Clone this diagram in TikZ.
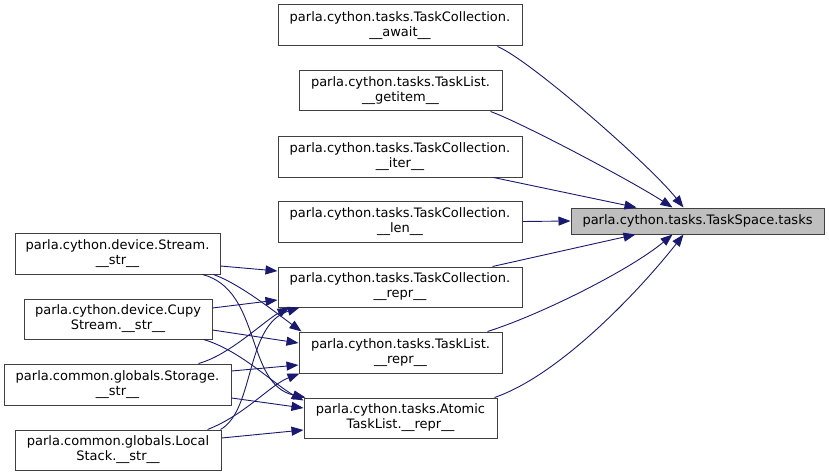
\documentclass[tikz,border=0pt]{standalone}
\usepackage{fontspec}
\setmainfont{DejaVu Sans}
\usetikzlibrary{arrows.meta,calc}
\definecolor{edgec}{HTML}{191970}
\definecolor{bordc}{HTML}{404040}
\definecolor{tgtfill}{HTML}{BFBFBF}
\tikzset{
  fn/.style={draw=bordc, line width=1pt, fill=white, rectangle, inner sep=0pt, align=center,
    font=\fontsize{13}{15}\selectfont},
  tgtbox/.style={fn, fill=tgtfill},
  edge/.style={draw=edgec, line width=0.9pt, -{Triangle[length=12pt,width=9pt]}, color=edgec}
}
\begin{document}
\begin{tikzpicture}[x=1pt,y=-1pt]
\useasboundingbox (0,0) rectangle (829,476);
% target
\node[tgtbox, minimum width=253pt, minimum height=26pt] (tgt) at (697.5,221) {parla.cython.tasks.TaskSpace.tasks};
% middle column
\node[fn, minimum width=244pt, minimum height=41pt] (await) at (400,25.5) {parla.cython.tasks.TaskCollection.\\\_\_await\_\_};
\node[fn, minimum width=203pt, minimum height=40pt] (getitem) at (400.5,91) {parla.cython.tasks.TaskList.\\\_\_getitem\_\_};
\node[fn, minimum width=244pt, minimum height=41pt] (iter) at (400,156.5) {parla.cython.tasks.TaskCollection.\\\_\_iter\_\_};
\node[fn, minimum width=244pt, minimum height=41pt] (len) at (400,221.5) {parla.cython.tasks.TaskCollection.\\\_\_len\_\_};
\node[fn, minimum width=244pt, minimum height=40pt] (tcrepr) at (400,287) {parla.cython.tasks.TaskCollection.\\\_\_repr\_\_};
\node[fn, minimum width=203pt, minimum height=41pt] (tlrepr) at (400.5,352.5) {parla.cython.tasks.TaskList.\\\_\_repr\_\_};
\node[fn, minimum width=193pt, minimum height=40pt] (atl) at (400.5,418) {parla.cython.tasks.Atomic\\TaskList.\_\_repr\_\_};
% left column
\node[fn, minimum width=205pt, minimum height=41pt] (stream) at (117.5,253.5) {parla.cython.device.Stream.\\\_\_str\_\_};
\node[fn, minimum width=188pt, minimum height=40pt] (cupy) at (118,319) {parla.cython.device.Cupy\\Stream.\_\_str\_\_};
\node[fn, minimum width=227pt, minimum height=41pt] (storage) at (117.5,384.5) {parla.common.globals.Storage.\\\_\_str\_\_};
\node[fn, minimum width=206pt, minimum height=40pt] (local) at (118,450) {parla.common.globals.Local\\Stack.\_\_str\_\_};

% edges to target
\draw[edge] ($(await.south east)+(-25,0)$) .. controls (530,60) and (650,165) .. ($(tgt.north west)+(113,0)$);
\draw[edge] ($(getitem.south east)+(-12,0)$) .. controls (520,122) and (630,180) .. ($(tgt.north west)+(102,0)$);
\draw[edge] ($(iter.south east)+(-29,0)$) -- ($(tgt.north west)+(66,0)$);
\draw[edge] (len.east) -- (tgt.west);
\draw[edge] ($(tcrepr.north east)+(-30,0)$) -- ($(tgt.south west)+(65,0)$);
\draw[edge] ($(tlrepr.north east)+(-15,0)$) .. controls (540,315) and (630,270) .. ($(tgt.south west)+(102,0)$);
\draw[edge] ($(atl.north east)+(-3,0)$) .. controls (560,375) and (640,290) .. ($(tgt.south west)+(113,0)$);

% left edges
\draw[edge] ($(stream.east)+(0,12.5)$) -- ($(tcrepr.west)+(0,-16)$);
\draw[edge] ($(stream.south east)+(-7,0)$) .. controls (240,284) and (275,312) .. ($(tlrepr.north west)+(3,0)$);
\draw[edge] ($(stream.south east)+(-18,0)$) .. controls (262,290) and (245,385) .. ($(atl.north west)+(2,0)$);
\draw[edge] ($(cupy.east)+(0,-11)$) -- ($(tcrepr.west)+(0,13)$);
\draw[edge] ($(cupy.east)+(0,11)$) -- ($(tlrepr.west)+(0,-9.5)$);
\draw[edge] ($(cupy.south east)+(-9,0)$) .. controls (240,350) and (275,385) .. ($(atl.north west)+(0,3)$);
\draw[edge] ($(storage.north east)+(-33,0)$) .. controls (230,355) and (265,320) .. ($(tcrepr.south west)+(12,0)$);
\draw[edge] ($(storage.east)+(0,-13.5)$) -- ($(tlrepr.west)+(0,12.5)$);
\draw[edge] ($(storage.east)+(0,13.5)$) -- ($(atl.west)+(0,-10)$);
\draw[edge] ($(local.north east)+(-1,0)$) .. controls (255,410) and (245,325) .. ($(tcrepr.south west)+(22,0)$);
\draw[edge] ($(local.north east)+(-14,0)$) .. controls (245,415) and (270,385) .. ($(tlrepr.south west)+(1,0)$);
\draw[edge] ($(local.east)+(0,-12)$) -- ($(atl.west)+(0,12)$);
\end{tikzpicture}
\end{document}
